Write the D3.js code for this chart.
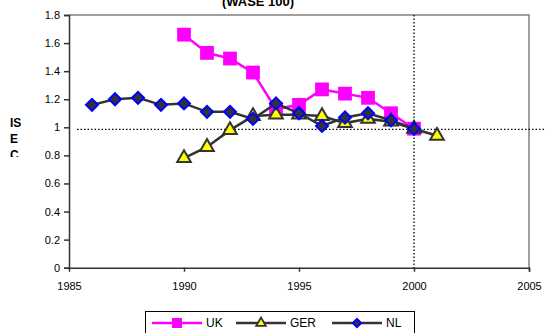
<!DOCTYPE html>
<html><head><meta charset="utf-8">
<script src="https://cdn.jsdelivr.net/npm/d3@7"></script>
<style>body{margin:0;background:#fff}svg{display:block;font-family:"Liberation Sans",Arial,sans-serif}</style>
</head><body><svg id="c" width="545" height="333"></svg>
<script>
const title = "(WASE 100)";
const yLabelLines = ["IS","E","C"];
const ukYears = [1990,1991,1992,1993,1994,1995,1996,1997,1998,1999,2000];
const ukValues = [1.66,1.53,1.49,1.39,1.13,1.16,1.27,1.24,1.21,1.10,0.99];
const gerYears = [1990,1991,1992,1993,1994,1995,1996,1997,1998,1999,2000,2001];
const gerValues = [0.78,0.86,0.98,1.08,1.09,1.09,1.08,1.03,1.06,1.04,0.99,0.94];
const nlYears = [1986,1987,1988,1989,1990,1991,1992,1993,1994,1995,1996,1997,1998,1999,2000];
const nlValues = [1.16,1.20,1.21,1.16,1.17,1.11,1.11,1.06,1.17,1.10,1.01,1.07,1.10,1.05,0.99];
const yTicks = [0,0.2,0.4,0.6,0.8,1,1.2,1.4,1.6,1.8];
const xTicks = [1985,1990,1995,2000,2005];
const refY = 0.985, refX = 2000;

const svg = d3.select("#c");
const L=69,R=529,T=15,B=267.7;
const x = d3.scaleLinear().domain([1985,2005]).range([L,R]);
const y = d3.scaleLinear().domain([0,1.8]).range([B,T]);

// title (partially clipped at top, as in the reference)
svg.append("text").attr("x",258).attr("y",6).attr("text-anchor","middle")
  .attr("font-size",13).attr("font-weight","bold").text(title);

// plot area border (top/right)
svg.append("path").attr("d",`M${L},${T}H${R}V${B}`).attr("fill","none").attr("stroke","#808080").attr("stroke-width",1.5);

// axes
const ya = svg.append("g").attr("transform",`translate(${L},0)`)
  .call(d3.axisLeft(y).tickValues(yTicks).tickSize(5).tickPadding(4).tickFormat(d=>d3.format("")(d)));
const xa = svg.append("g").attr("transform",`translate(0,${B})`)
  .call(d3.axisBottom(x).tickValues(xTicks).tickSize(4).tickPadding(11).tickFormat(d3.format("d")));
[ya,xa].forEach(g=>{
  g.selectAll("path,line").attr("stroke","#333").attr("stroke-width",1.5);
  g.selectAll("text").attr("font-size",11).attr("fill","#000").attr("font-family","Liberation Sans, Arial, sans-serif");
});
xa.selectAll(".tick").filter(d=>d===1985).select("line").remove();

// reference dotted lines
svg.append("line").attr("x1",x(1985.35)).attr("x2",545).attr("y1",y(refY)).attr("y2",y(refY))
  .attr("stroke","#000").attr("stroke-width",1.3).attr("stroke-dasharray","1.5,2");
svg.append("line").attr("x1",x(refX)).attr("x2",x(refX)).attr("y1",T).attr("y2",B)
  .attr("stroke","#000").attr("stroke-width",1.3).attr("stroke-dasharray","1.5,2");

// y label (bottom letter cut as in reference)
svg.append("clipPath").attr("id","lc").append("rect").attr("x",0).attr("y",100).attr("width",60).attr("height",57);
const yl = svg.append("g").attr("clip-path","url(#lc)");
yLabelLines.forEach((t,i)=>yl.append("text").attr("x",10).attr("y",127+i*16)
  .attr("font-size",12).attr("font-weight","bold").text(t));

const line = d3.line().x(d=>x(d[0])).y(d=>y(d[1]));
const sq = d3.symbol().type(d3.symbolSquare).size(190);
const tri = d3.symbol().type(d3.symbolTriangle).size(80);
const dia = d3.symbol().type(d3.symbolSquare).size(72);

function series(years, vals, color, lw, sym, rot, fill, stroke, sw){
  const data = years.map((yr,i)=>[yr,vals[i]]);
  svg.append("path").datum(data).attr("d",line).attr("fill","none").attr("stroke",color).attr("stroke-width",lw);
  svg.selectAll(null).data(data).enter().append("path").attr("d",sym)
    .attr("transform",d=>`translate(${x(d[0])},${y(d[1])}) rotate(${rot})`)
    .attr("fill",fill).attr("stroke",stroke).attr("stroke-width",sw);
}
series(ukYears,ukValues,"#ff00ff",2.5,sq,0,"#ff00ff","none",0);
series(gerYears,gerValues,"#333",2.5,tri,0,"#ffff00","#333",2);
series(nlYears,nlValues,"#333",2.5,dia,45,"#333","#0000ff",2);

// legend
const lg = svg.append("g");
lg.append("rect").attr("x",145.5).attr("y",311.5).attr("width",269).attr("height",30).attr("fill","#fff").attr("stroke","#000").attr("stroke-width",1);
const items = [
  {name:"UK",x:152,color:"#ff00ff",sym:d3.symbol().type(d3.symbolSquare).size(100),rot:0,fill:"#ff00ff",stroke:"none",sw:0},
  {name:"GER",x:236,color:"#333",sym:d3.symbol().type(d3.symbolTriangle).size(40),rot:0,fill:"#ffff00",stroke:"#333",sw:1.8},
  {name:"NL",x:332,color:"#333",sym:d3.symbol().type(d3.symbolSquare).size(36),rot:45,fill:"#333",stroke:"#0000ff",sw:1.8}
];
const ly = 323;
items.forEach(it=>{
  lg.append("line").attr("x1",it.x).attr("x2",it.x+50).attr("y1",ly).attr("y2",ly).attr("stroke",it.color).attr("stroke-width",2.5);
  lg.append("path").attr("d",it.sym).attr("transform",`translate(${it.x+25},${ly}) rotate(${it.rot})`).attr("fill",it.fill).attr("stroke",it.stroke).attr("stroke-width",it.sw);
  lg.append("text").attr("x",it.x+54).attr("y",ly+4).attr("font-size",12).text(it.name);
});
</script></body></html>
